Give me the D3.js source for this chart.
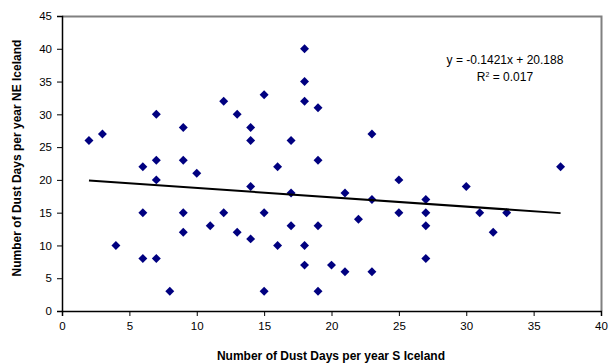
<!DOCTYPE html>
<html>
<head>
<meta charset="utf-8">
<script src="https://cdn.jsdelivr.net/npm/d3@7"></script>
<style>
  body { margin: 0; background: #fff; }
  text { font-family: "Liberation Sans", Arial, sans-serif; }
</style>
</head>
<body>
<div id="chart"></div>
<script>
// dust days S Iceland (x) vs NE Iceland (y)
var southDays = [2, 3, 7, 9, 12, 13, 14, 14, 18, 18, 15, 18, 19, 17, 23, 19,
  6, 7, 9, 10, 7, 14, 6, 9, 12, 11, 9, 13, 14, 4, 6, 7, 8,
  16, 17, 25, 21, 23, 27, 15, 25, 27, 22, 17, 19, 27, 16, 18, 18, 20, 21, 23, 27, 15, 19,
  30, 31, 32, 33, 37];
var northEastDays = [26, 27, 30, 28, 32, 30, 28, 26, 40, 35, 33, 32, 31, 26, 27, 23,
  22, 23, 23, 21, 20, 19, 15, 15, 15, 13, 12, 12, 11, 10, 8, 8, 3,
  22, 18, 20, 18, 17, 17, 15, 15, 15, 14, 13, 13, 13, 10, 10, 7, 7, 6, 6, 8, 3, 3,
  19, 15, 12, 15, 22];
var xTicks = [0, 5, 10, 15, 20, 25, 30, 35, 40];
var yTicks = [0, 5, 10, 15, 20, 25, 30, 35, 40, 45];
var trendSlope = -0.1421;
var trendIntercept = 20.188;
var eqLabel = "y = -0.1421x + 20.188";
var r2Value = "0.017";

var svgWidth = 611;
var svgHeight = 364;
var margin = { top: 16, right: 10, bottom: 53, left: 62 };
var width = 601 - margin.left;
var height = 311 - margin.top;

var svg = d3.select("#chart")
  .append("svg")
  .attr("width", svgWidth)
  .attr("height", svgHeight);

var g = svg.append("g")
  .attr("transform", "translate(" + margin.left + "," + margin.top + ")");

var x = d3.scaleLinear().domain([0, 40]).range([0, width]);
var y = d3.scaleLinear().domain([0, 45]).range([height, 0]);

// plot area border (top / right grey)
g.append("path")
  .attr("d", "M0,0.5H" + (width + 0.5) + "V" + height)
  .attr("fill", "none")
  .attr("stroke", "#808080")
  .attr("stroke-width", 2);

var xAxis = g.append("g")
  .attr("transform", "translate(0," + height + ")")
  .call(d3.axisBottom(x).tickValues(xTicks).tickSize(5).tickPadding(6));
var yAxis = g.append("g")
  .call(d3.axisLeft(y).tickValues(yTicks).tickSize(5).tickPadding(5));

[xAxis, yAxis].forEach(function(a) {
  a.select(".domain").attr("stroke", "#000").attr("stroke-width", 1.5);
  a.selectAll(".tick line").attr("stroke", "#000");
  a.selectAll("text")
    .attr("fill", "#000")
    .style("font-size", "11.5px")
    .style("font-family", "'Liberation Sans', Arial, sans-serif");
});

// points
g.selectAll(".pt")
  .data(southDays.map(function(d, i) { return [d, northEastDays[i]]; }))
  .enter()
  .append("path")
  .attr("class", "pt")
  .attr("d", d3.symbol().type(d3.symbolSquare).size(40))
  .attr("transform", function(d) {
    return "translate(" + x(d[0]) + "," + y(d[1]) + ") rotate(45)";
  })
  .attr("fill", "#000080");

// linear trendline across the data range
var xMin = d3.min(southDays), xMax = d3.max(southDays);
g.append("line")
  .attr("x1", x(xMin))
  .attr("y1", y(trendSlope * xMin + trendIntercept))
  .attr("x2", x(xMax))
  .attr("y2", y(trendSlope * xMax + trendIntercept))
  .attr("stroke", "#000")
  .attr("stroke-width", 2);

// equation
svg.append("text")
  .attr("x", 505)
  .attr("y", 64)
  .attr("text-anchor", "middle")
  .style("font-size", "12px")
  .text(eqLabel);
var r2 = svg.append("text")
  .attr("x", 505)
  .attr("y", 81)
  .attr("text-anchor", "middle")
  .style("font-size", "12px");
r2.append("tspan").text("R");
r2.append("tspan").attr("dy", -4).style("font-size", "7px").text("2");
r2.append("tspan").attr("dy", 4).text(" = " + r2Value);

// axis titles
svg.append("text")
  .attr("x", 331)
  .attr("y", 360)
  .attr("text-anchor", "middle")
  .style("font-size", "12px")
  .style("font-weight", "bold")
  .text("Number of Dust Days per year S Iceland");

svg.append("text")
  .attr("transform", "translate(21,158) rotate(-90)")
  .attr("text-anchor", "middle")
  .style("font-size", "12px")
  .style("font-weight", "bold")
  .text("Number of Dust Days per year NE Iceland");
</script>
</body>
</html>
